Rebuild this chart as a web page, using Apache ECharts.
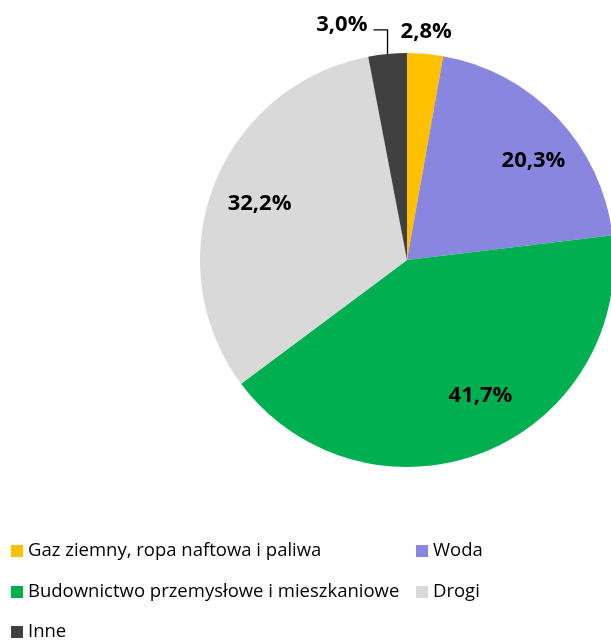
<!DOCTYPE html>
<html>
<head>
<meta charset="utf-8">
<script src="https://cdn.jsdelivr.net/npm/echarts@6/dist/echarts.min.js"></script>
<style>html,body{margin:0;padding:0;background:#fff}#c{width:611px;height:641px}</style>
</head>
<body>
<div id="c"></div>
<script>
const categories = ['Gaz ziemny, ropa naftowa i paliwa', 'Woda', 'Budownictwo przemysłowe i mieszkaniowe', 'Drogi', 'Inne'];
const values = [2.8, 20.3, 41.7, 32.2, 3.0];
const colors = ['#FFC000', '#8986E0', '#00B050', '#D9D9D9', '#404040'];

const CX = 407, CY = 260, R = 207;
const FONT = '"Open Sans", Lato, sans-serif';
const total = values.reduce((a, b) => a + b, 0);
function midAngle(i) {
  let s = 0;
  for (let k = 0; k < i; k++) s += values[k];
  return ((s + values[i] / 2) / total) * Math.PI * 2;
}
function edgePoint(i) {
  const a = midAngle(i);
  return [CX + R * Math.sin(a), CY - R * Math.cos(a)];
}
const fmt = p => p.value.toFixed(1).replace('.', ',') + '%';
// small label nudges (px) for the inside labels, like the original's placement
const labelNudge = [[0, 0], [10, 11], [14, -13], [2, 2], [0, 0]];

const chart = echarts.init(document.getElementById('c'), null, {renderer: 'canvas'});

const legendPos = [
  {left: 11, top: 541}, {left: 416, top: 541},
  {left: 11, top: 582}, {left: 416, top: 582},
  {left: 11, top: 622}
];

chart.setOption({
  animation: false,
  legend: categories.map((c, i) => ({
    data: [c], left: legendPos[i].left, top: legendPos[i].top, padding: 0,
    icon: 'rect', itemWidth: 12, itemHeight: 12, selectedMode: false,
    textStyle: {fontFamily: FONT, fontSize: 18.5, color: '#000', lineHeight: 20, padding: [0, 0, 0, 0]}
  })),
  series: [
    {
      type: 'pie', center: [CX, CY], radius: [0, R], startAngle: 90, clockwise: true,
      silent: true, avoidLabelOverlap: false,
      data: categories.map((c, i) => ({
        name: c, value: values[i], itemStyle: {color: colors[i]},
        label: {show: i === 0 || i === 4},
        labelLine: {show: i === 4}
      })),
      label: {position: 'outside', formatter: fmt, fontFamily: FONT, fontWeight: 'bold', fontSize: 22, color: '#000'},
      labelLine: {lineStyle: {color: '#000', width: 1.3}, length: 10, length2: 10},
      labelLayout: function (p) {
        const e = edgePoint(p.dataIndex);
        if (p.dataIndex === 0) {
          return {x: e[0] + 1, y: e[1] - 22, align: 'center', verticalAlign: 'middle'};
        }
        if (p.dataIndex === 4) {
          return {
            x: e[0] - 20, y: e[1] - 29, align: 'right', verticalAlign: 'middle',
            labelLinePoints: [[e[0], e[1]], [e[0], e[1] - 24], [e[0] - 14, e[1] - 24]]
          };
        }
        return {};
      }
    },
    {
      type: 'pie', center: [CX, CY], radius: [0, R * 1.52], startAngle: 90, clockwise: true,
      silent: true, avoidLabelOverlap: false, z: 3,
      itemStyle: {color: 'rgba(0,0,0,0)'},
      data: categories.map((c, i) => ({
        name: c, value: values[i],
        label: {show: i >= 1 && i <= 3}
      })),
      label: {position: 'inside', formatter: fmt, fontFamily: FONT, fontWeight: 'bold', fontSize: 22, color: '#000'},
      labelLine: {show: false},
      labelLayout: function (p) {
        const n = labelNudge[p.dataIndex];
        return {dx: n[0], dy: n[1]};
      }
    }
  ]
});
</script>
</body>
</html>
